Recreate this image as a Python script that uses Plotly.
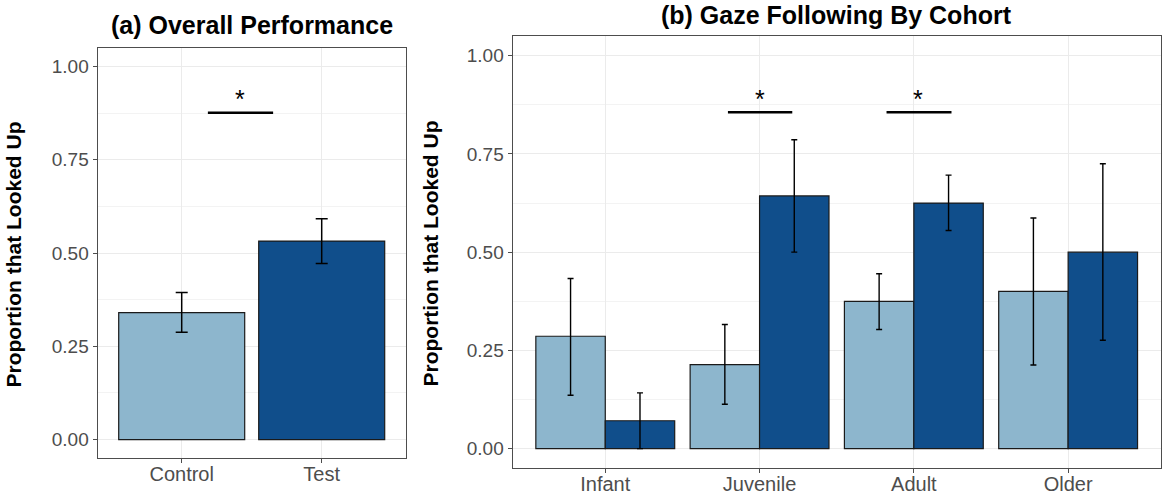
import plotly.graph_objects as go

# ---------------- data ----------------
conditions = ["Control", "Test"]
overall_mean = [0.340, 0.532]
overall_upper = [0.394, 0.592]
overall_lower = [0.288, 0.472]

cohorts = ["Infant", "Juvenile", "Adult", "Older"]
control_mean = [0.286, 0.214, 0.375, 0.400]
control_upper = [0.433, 0.316, 0.445, 0.587]
control_lower = [0.136, 0.113, 0.303, 0.213]
test_mean = [0.071, 0.643, 0.625, 0.500]
test_upper = [0.142, 0.786, 0.696, 0.725]
test_lower = [0.000, 0.500, 0.555, 0.276]

# significance markers: (x start, x end in category units, line y, star x, star y)
sig_a = [(0.187, 0.653, 0.8755, 0.413, 0.918)]
sig_b = [(0.795, 1.212, 0.856, 1.0, 0.894),
         (1.823, 2.244, 0.856, 2.028, 0.894)]

tick_vals = [0, 0.25, 0.5, 0.75, 1.0]
tick_text = ["0.00", "0.25", "0.50", "0.75", "1.00"]

LIGHT = "#8DB6CD"
DARK = "#104E8B"
FONT = "Liberation Sans"
W, H = 1167, 498


def err(mean, up, lo):
    return dict(type="data", symmetric=False,
                array=[u - m for u, m in zip(up, mean)],
                arrayminus=[m - l for m, l in zip(mean, lo)])


fig = go.Figure()

ea = err(overall_mean, overall_upper, overall_lower)
ea.update(color="black", thickness=1.5, width=6)
fig.add_trace(go.Bar(x=conditions, y=overall_mean, marker=dict(color=[LIGHT, DARK], line=dict(color="#1a1a1a", width=1.2)),
                     error_y=ea, xaxis="x", yaxis="y", showlegend=False))

ec = err(control_mean, control_upper, control_lower)
ec.update(color="black", thickness=1.4, width=3)
fig.add_trace(go.Bar(x=cohorts, y=control_mean, name="Control", offsetgroup="c",
                     marker=dict(color=LIGHT, line=dict(color="#1a1a1a", width=1.2)),
                     error_y=ec, xaxis="x2", yaxis="y2", showlegend=False))
et = err(test_mean, test_upper, test_lower)
et.update(color="black", thickness=1.4, width=3)
fig.add_trace(go.Bar(x=cohorts, y=test_mean, name="Test", offsetgroup="t",
                     marker=dict(color=DARK, line=dict(color="#1a1a1a", width=1.2)),
                     error_y=et, xaxis="x2", yaxis="y2", showlegend=False))


def px_x(p):
    return p / W


def px_y(p):
    return 1 - p / H


axis_common = dict(showline=True, mirror=True, linecolor="#4d4d4d", linewidth=1.3,
                   ticks="outside", ticklen=4, tickcolor="#4d4d4d", tickwidth=1.2,
                   gridcolor="#EBEBEB", gridwidth=1.2, zeroline=False, automargin=False,
                   tickfont=dict(family=FONT, size=20, color="#4D4D4D"))

xaxis_common = dict(axis_common)
xaxis_common.update(type="category", ticklabelstandoff=-6)

yaxis_common = dict(axis_common)
yaxis_common.update(range=[-0.05, 1.05], tickvals=tick_vals, ticktext=tick_text,
                    tickfont=dict(family=FONT, size=19, color="#4D4D4D"),
                    minor=dict(tickvals=[0.125, 0.375, 0.625, 0.875], showgrid=True,
                               gridcolor="#F3F3F3", gridwidth=0.8, ticks=""))

fig.update_layout(
    template="none",
    width=W, height=H, margin=dict(l=0, r=0, t=0, b=0, autoexpand=False),
    plot_bgcolor="white", paper_bgcolor="white",
    bargap=0.1, bargroupgap=0, barmode="group",
    xaxis=dict(xaxis_common, domain=[px_x(97.7), px_x(405.7)], range=[-0.6, 1.6], anchor="y"),
    yaxis=dict(yaxis_common, domain=[px_y(458.3), px_y(47.7)], anchor="x"),
    xaxis2=dict(xaxis_common, domain=[px_x(512.7), px_x(1160.7)], range=[-0.6, 3.6], anchor="y2"),
    yaxis2=dict(yaxis_common, domain=[px_y(468.3), px_y(36)], anchor="x2"),
)

shapes = []
annotations = []
for (x0, x1, ly, sx, sy) in sig_a:
    shapes.append(dict(type="line", xref="x", yref="y", x0=x0, x1=x1, y0=ly, y1=ly,
                       line=dict(color="black", width=2.5)))
    annotations.append(dict(xref="x", yref="y", x=sx, y=sy, text="*", showarrow=False,
                            font=dict(family=FONT, size=25, color="black"), yshift=-2))
for (x0, x1, ly, sx, sy) in sig_b:
    shapes.append(dict(type="line", xref="x2", yref="y2", x0=x0, x1=x1, y0=ly, y1=ly,
                       line=dict(color="black", width=2.5)))
    annotations.append(dict(xref="x2", yref="y2", x=sx, y=sy, text="*", showarrow=False,
                            font=dict(family=FONT, size=25, color="black"), yshift=-2))

annotations += [
    dict(xref="paper", yref="paper", x=px_x(251.7), y=px_y(25), text="<b>(a) Overall Performance</b>",
         showarrow=False, xanchor="center", yanchor="middle",
         font=dict(family=FONT, size=25, color="black")),
    dict(xref="paper", yref="paper", x=px_x(836.7), y=px_y(15), text="<b>(b) Gaze Following By Cohort</b>",
         showarrow=False, xanchor="center", yanchor="middle",
         font=dict(family=FONT, size=25, color="black")),
    dict(xref="paper", yref="paper", x=px_x(13), y=px_y(254.5), text="<b>Proportion that Looked Up</b>",
         showarrow=False, textangle=-90, xanchor="center", yanchor="middle",
         font=dict(family=FONT, size=21, color="black")),
    dict(xref="paper", yref="paper", x=px_x(430), y=px_y(253.5), text="<b>Proportion that Looked Up</b>",
         showarrow=False, textangle=-90, xanchor="center", yanchor="middle",
         font=dict(family=FONT, size=21, color="black")),
]
fig.update_layout(shapes=shapes, annotations=annotations)

fig.write_html("out.html", config={"displayModeBar": False},
               post_script="document.body.style.margin='0';document.body.style.overflow='hidden';")
